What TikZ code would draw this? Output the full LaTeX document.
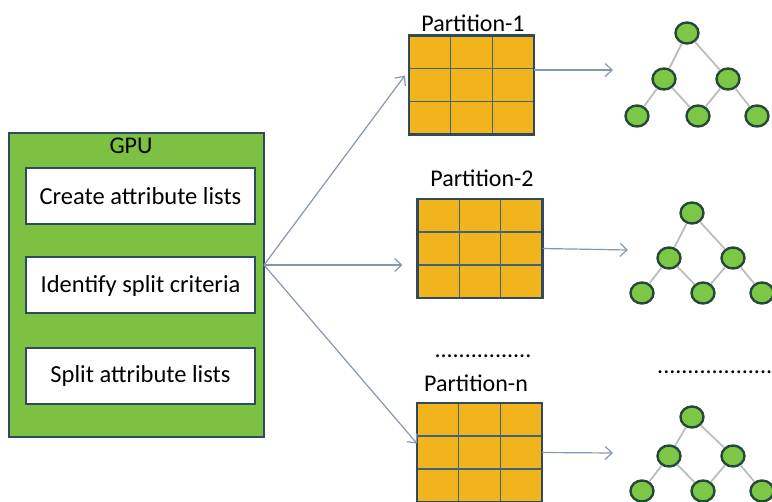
\documentclass[tikz,border=0pt]{standalone}
\usepackage{fontspec}
\setmainfont{Carlito}
\usepackage{xcolor}
\usetikzlibrary{arrows.meta,positioning,shapes.geometric}

\definecolor{gpugreen}{HTML}{7DC143}
\definecolor{edgeblue}{HTML}{2F4A5E}
\definecolor{partorange}{HTML}{F1B41C}
\definecolor{cellline}{HTML}{3E6478}
\definecolor{leafgreen}{HTML}{7CC846}
\definecolor{leafedge}{HTML}{264838}
\definecolor{arrowgray}{HTML}{8597B0}
\definecolor{branchgray}{HTML}{BDBDBD}

\begin{document}
\begin{tikzpicture}[x=1pt,y=-1pt,
	gpubox/.style={draw=edgeblue,line width=2.5pt,fill=gpugreen,minimum width=255pt,minimum height=304pt,inner sep=0pt,outer sep=0pt},
	stepbox/.style={draw=edgeblue,line width=2pt,fill=white,minimum width=229pt,minimum height=56pt,inner sep=0pt,font=\fontsize{24.5}{28}\selectfont},
	partgrid/.style={draw=edgeblue,line width=2.5pt,fill=partorange,minimum width=125pt,minimum height=99pt,inner sep=0pt,outer sep=0pt},
	lbl/.style={font=\fontsize{24}{28}\selectfont,inner sep=0pt},
	flow/.style={draw=arrowgray,line width=1.2pt,-{Straight Barb[length=7pt,width=13pt]}},
	leaf/.style={ellipse,draw=leafedge,line width=2.4pt,fill=leafgreen,minimum width=23pt,minimum height=21pt,inner sep=0pt},
	branch/.style={draw=branchgray,line width=1.8pt}]
	
	\useasboundingbox (0,0) rectangle (772,502);
	
	% GPU side
	\node[gpubox] (gpu) at (136.5,285) {};
	\node[lbl] (gputxt) at (131,146) {GPU};
	\node[stepbox] (create) at (140.5,196) {Create attribute lists};
	\node[stepbox] (identify) at (140.5,285.5) {Identify split criteria};
	\node[stepbox] (splitting) at (140.5,376) {Split attribute lists};
	
	% partitions
	\foreach \p/\x/\y in {1/471.5/85, 2/480/248.5, n/479.5/452.5} {
		\node[partgrid] (p\p) at (\x,\y) {};
		\draw[cellline,line width=1.3pt]
			([xshift=41.7pt]p\p.north west) -- ([xshift=41.7pt]p\p.south west)
			([xshift=-41.7pt]p\p.north east) -- ([xshift=-41.7pt]p\p.south east)
			([yshift=-33pt]p\p.north west) -- ([yshift=-33pt]p\p.north east)
			([yshift=33pt]p\p.south west) -- ([yshift=33pt]p\p.south east);
		\draw[edgeblue,line width=2.5pt] (p\p.north west) rectangle (p\p.south east);
	}
	
	\node[lbl] (l1) at (473,23) {Partition-1};
	\node[lbl] (l2) at (482,178) {Partition-2};
	\node[lbl] (dotsp) at (483,356) {................};
	\node[lbl] (ln) at (476,383) {Partition-n};
	
	% trees
	\foreach \t/\x/\y/\dy/\ddy in {1/687/33/46/83, 2/692/213/45/80, n/692/417/39/74} {
		\node[leaf] (root\t) at (\x,\y) {};
		\node[leaf] (la\t) at (\x-23,\y+\dy) {};
		\node[leaf] (lb\t) at (\x+41,\y+\dy) {};
		\node[leaf] (lc\t) at (\x-50,\y+\ddy) {};
		\node[leaf] (ld\t) at (\x+11,\y+\ddy) {};
		\node[leaf] (le\t) at (\x+70,\y+\ddy) {};
		\draw[branch] (root\t) -- (la\t);
		\draw[branch] (root\t) -- (lb\t);
		\draw[branch] (la\t) -- (lc\t);
		\draw[branch] (la\t) -- (ld\t);
		\draw[branch] (lb\t) -- (ld\t);
		\draw[branch] (lb\t) -- (le\t);
	}
	
	\node[lbl,anchor=west] (dotst) at (657,372) {...................};
	
	% arrows
	\coordinate (fan) at ([yshift=20pt]gpu.east);
	\draw[flow,shorten >=7pt] (fan) -- ([yshift=15pt]p1.west);
	\draw[flow,shorten >=15pt] (fan) -- ([yshift=-16.5pt]p2.west);
	\draw[flow] (fan) -- ([yshift=9pt]pn.west);
	
	\coordinate (o1) at (613,70);
	\coordinate (o2) at (628,250);
	\coordinate (on) at (613,453);
	\draw[flow] ([yshift=15pt]p1.east) -- (o1);
	\draw[flow] (p2.east) -- (o2);
	\draw[flow] (pn.east) -- (on);
	
\end{tikzpicture}
\end{document}
